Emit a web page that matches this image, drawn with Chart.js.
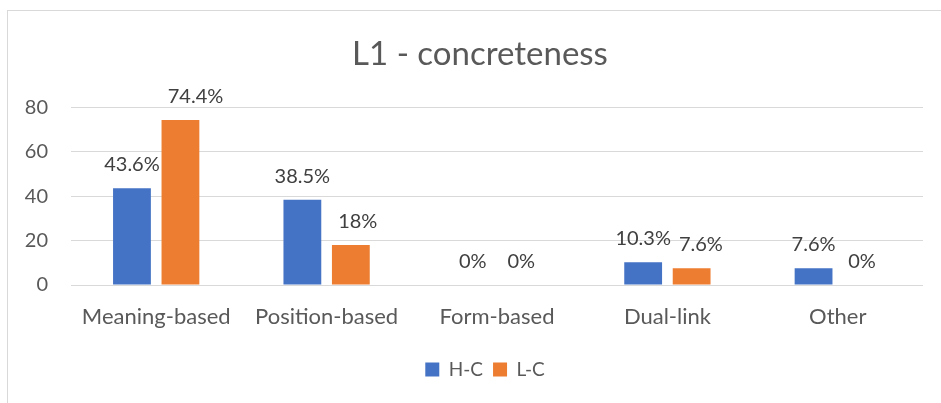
<!DOCTYPE html>
<html>
<head>
<meta charset="utf-8">
<script src="https://cdn.jsdelivr.net/npm/chart.js@4.4.0/dist/chart.umd.min.js"></script>
<style>
  html, body { margin: 0; padding: 0; background: #fff; overflow: hidden; }
  #wrap { position: relative; width: 941px; height: 403px; overflow: hidden; }
  #frame { position: absolute; left: 7px; top: 10px; right: -5px; bottom: -5px; border: 1px solid #d9d9d9; }
  canvas { position: absolute; left: 0; top: 0; }
</style>
</head>
<body>
<div id="wrap">
  <div id="frame"></div>
  <canvas id="c" width="960" height="403"></canvas>
</div>
<script>
const categories = ["Meaning-based", "Position-based", "Form-based", "Dual-link", "Other"];
const seriesNames = ["H-C", "L-C"];
const hcValues = [43.6, 38.5, 0, 10.3, 7.6];
const lcValues = [74.4, 18, 0, 7.6, 0];
const yTicks = [0, 20, 40, 60, 80];
const titleText = "L1 - concreteness";

const FONT = "Lato, 'Open Sans', sans-serif";
const TXT = "#595959";

// Value labels above bars; a label that would collide with its left neighbour
// in the same category is nudged right (as the spreadsheet renderer does).
const labelPlugin = {
  id: 'barLabels',
  afterDatasetsDraw(chart) {
    const ctx = chart.ctx;
    ctx.save();
    ctx.font = "20px " + FONT;
    ctx.fillStyle = "#404040";
    ctx.textAlign = "center";
    ctx.textBaseline = "middle";
    const n = chart.data.labels.length;
    for (let i = 0; i < n; i++) {
      let prevRight = -Infinity;
      chart.data.datasets.forEach((ds, di) => {
        const bar = chart.getDatasetMeta(di).data[i];
        const txt = ds.data[i] + "%";
        const w = ctx.measureText(txt).width;
        let cx = bar.x;
        if (cx - w / 2 < prevRight + 8) cx = prevRight + 8 + w / 2;
        ctx.fillText(txt, cx, bar.y - 23.5);
        prevRight = cx + w / 2;
      });
    }
    ctx.restore();
  }
};

// Nudge the legend block slightly right, as in the reference.
const legendShift = {
  id: 'legendShift',
  afterLayout(chart) {
    if (chart.legend) { chart.legend.left += 5; chart.legend.right += 5; }
  }
};

new Chart(document.getElementById('c'), {
  type: 'bar',
  data: {
    labels: categories,
    datasets: [
      { label: seriesNames[0], data: hcValues, backgroundColor: "#4472C4", categoryPercentage: 0.569, barPercentage: 0.78 },
      { label: seriesNames[1], data: lcValues, backgroundColor: "#ED7D31", categoryPercentage: 0.569, barPercentage: 0.78 }
    ]
  },
  options: {
    responsive: false,
    animation: false,
    devicePixelRatio: 1,
    layout: { padding: { top: 35, left: 0, right: 0, bottom: 14 } },
    plugins: {
      title: {
        display: true, text: titleText,
        color: TXT, font: { family: FONT, size: 33, weight: 'normal' },
        padding: { top: 0, bottom: 33 }
      },
      legend: {
        position: 'bottom',
        labels: {
          color: TXT, font: { family: FONT, size: 19 },
          boxWidth: 14, boxHeight: 14, padding: 10
        }
      },
      tooltip: { enabled: false }
    },
    scales: {
      x: {
        afterFit(scale) { scale.height = 65; },
        grid: { display: false, drawTicks: false },
        border: { display: false },
        ticks: { color: TXT, font: { family: FONT, size: 22 }, padding: 19, maxRotation: 0, autoSkip: false }
      },
      y: {
        min: 0, max: 80,
        afterBuildTicks(scale) { scale.ticks = yTicks.map(v => ({ value: v })); },
        afterFit(scale) { scale.width = 71; },
        grid: { color: "#d9d9d9", lineWidth: 1, drawTicks: false },
        border: { display: false },
        ticks: { color: TXT, font: { family: FONT, size: 20 }, padding: 23 }
      },
      spacer: {
        type: 'linear', position: 'right', min: 0, max: 80,
        afterFit(scale) { scale.width = 37; },
        grid: { display: false, drawTicks: false },
        border: { display: false },
        ticks: { display: false }
      }
    }
  },
  plugins: [labelPlugin, legendShift]
});
</script>
</body>
</html>
